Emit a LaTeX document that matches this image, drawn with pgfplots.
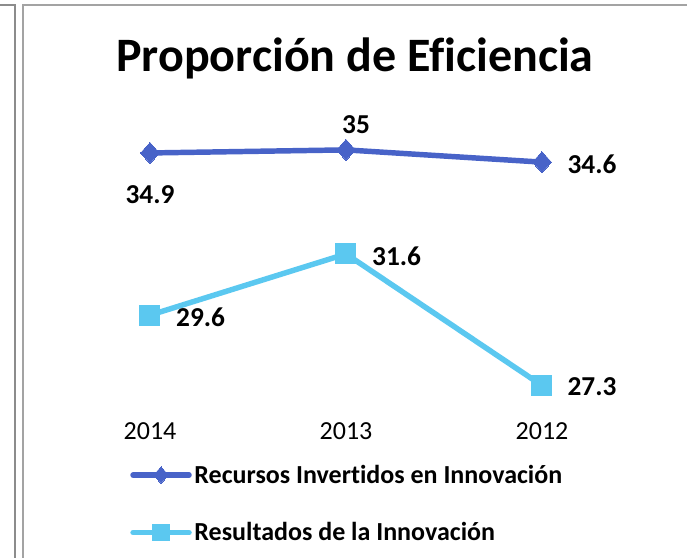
\documentclass[border=0pt]{standalone}
\usepackage{pgfplots}
\pgfplotsset{compat=1.18}
\usepackage{pgfplotstable}
\usepackage{fontspec}
\setmainfont{Carlito}[Ligatures=NoCommon]
\definecolor{sdark}{HTML}{4863C8}
\definecolor{slight}{HTML}{5BC8F0}
\definecolor{frame}{HTML}{8C8C8C}
\pgfplotstableread{
x y dx dy
0 34.9 0 -31.5
1 35.0 7.5 18.75
2 34.6 37.5 -1.5
}\seriesA
\pgfplotstableread{
x y dx dy
0 29.6 38 -1.5
1 31.6 38 -1.5
2 27.3 37.5 -1
}\seriesB
\begin{document}
\begin{tikzpicture}
\path[use as bounding box] (0pt,0pt) rectangle (515.25pt,418.5pt);
% frame lines
\draw[frame, line width=1.5pt] (0pt,414.4pt) -- (10.9pt,414.4pt) -- (10.9pt,0pt);
\draw[frame!80, line width=1.5pt] (17.25pt,0pt) -- (17.25pt,414.4pt) -- (515.25pt,414.4pt);
\node[font=\bfseries\fontsize{36}{43}\selectfont] at (266.25pt,374.5pt) {Proporción de Eficiencia};
\begin{axis}[
  at={(39pt,111pt)}, anchor=south west,
  scale only axis, width=441pt, height=229.5pt,
  xmin=-0.5, xmax=2.5, ymin=26.5, ymax=36.5,
  axis line style={draw=none},
  ytick=\empty,
  xtick={0,1,2}, xticklabels={2014,2013,2012},
  major tick length=0pt,
  xticklabel style={font=\fontsize{19.5}{23}\selectfont, yshift=-6pt},
  clip=false,
  /pgf/number format/assume math mode=true,
  nodes near coords={\pgfmathprintnumber{\pgfplotspointmeta}},
  point meta=explicit,
  visualization depends on={\thisrow{dx} \as \dx},
  visualization depends on={\thisrow{dy} \as \dy},
  nodes near coords style={anchor=center, xshift=\dx pt, yshift=\dy pt, font=\bfseries\fontsize{20.5}{24}\selectfont, black},
  legend style={at={(0.1327,-0.17)}, anchor=north west, draw=none, fill=none,
    font=\bfseries\fontsize{19.5}{23}\selectfont, row sep=24pt, inner sep=0pt,
    /tikz/every even column/.append style={column sep=2pt}},
  legend cell align=left,
  legend image code/.code={%
    \draw[#1, line cap=round, mark=none] (0pt,0pt) -- (42pt,0pt);
    \draw[#1, mark repeat=1, mark size=6.2pt] plot coordinates {(21pt,0pt)};},
]
\addplot[sdark, line width=4.1pt, mark=diamond*, mark size=7.9pt,
  mark options={xscale=1.2, solid, line width=0pt}]
  table[x=x, y=y, meta=y] {\seriesA};
\addlegendentry{Recursos Invertidos en Innovación}
\addplot[slight, line width=4.1pt, mark=square*, mark size=7.5pt,
  mark options={solid, line width=0pt}]
  table[x=x, y=y, meta=y] {\seriesB};
\addlegendentry{Resultados de la Innovación}
\end{axis}
\end{tikzpicture}
\end{document}
